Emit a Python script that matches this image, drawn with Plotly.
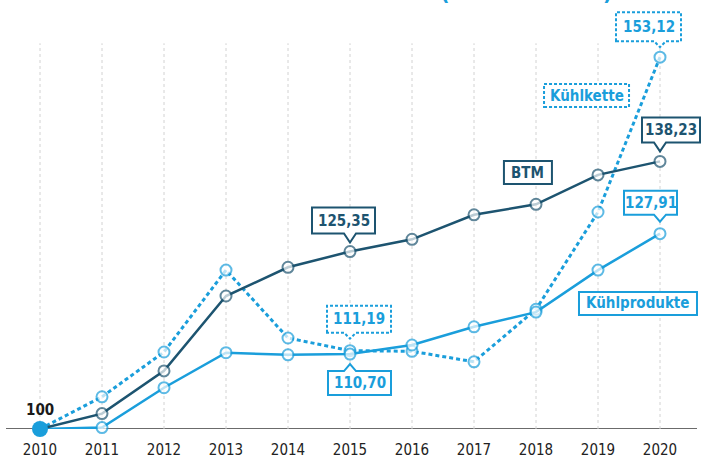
import plotly.graph_objects as go

# ---------------- data ----------------
years = [2010, 2011, 2012, 2013, 2014, 2015, 2016, 2017, 2018, 2019, 2020]
btm = [100, 102.2, 108.3, 119.0, 123.1, 125.35, 127.1, 130.6, 132.1, 136.3, 138.23]
kuehlprodukte = [100, 100.2, 105.9, 110.9, 110.6, 110.70, 112.0, 114.6, 116.7, 122.7, 127.91]
kuehlkette = [100, 104.6, 111.0, 122.7, 113.0, 111.19, 111.1, 109.6, 117.1, 131.0, 153.12]
series_names = ["BTM", "Kühlprodukte", "Kühlkette"]
tick_labels = [str(y) for y in years]

# ---------------- style ----------------
DARK = "#1d5470"
LIGHT = "#1a9edb"
FONT = "DejaVu Sans Condensed, Liberation Sans Narrow, Roboto, sans-serif"

series = {"BTM": btm, "Kühlprodukte": kuehlprodukte, "Kühlkette": kuehlkette}
style = {
    "BTM": dict(color=DARK, dash="solid"),
    "Kühlprodukte": dict(color=LIGHT, dash="solid"),
    "Kühlkette": dict(color=LIGHT, dash="4px,3px"),
}

fig = go.Figure()

for name in ["Kühlkette", "Kühlprodukte", "BTM"]:
    vals = series[name]
    st = style[name]
    fig.add_trace(go.Scatter(
        x=years, y=vals, mode="lines+markers", name=name,
        line=dict(color=st["color"], width=2.5 if name != "Kühlkette" else 3, dash=st["dash"]),
        marker=dict(size=[0] + [11] * (len(vals) - 1), color="#ffffff",
                    line=dict(color=st["color"], width=2)),
        cliponaxis=False, showlegend=False, hoverinfo="skip",
    ))

# start point 2010 = 100
fig.add_trace(go.Scatter(
    x=[years[0]], y=[btm[0]], mode="markers",
    marker=dict(size=16, color=LIGHT), cliponaxis=False,
    showlegend=False, hoverinfo="skip",
))

shapes = []
annotations = []

# vertical dotted gridlines and baseline
for yr in years:
    shapes.append(dict(type="line", xref="x", yref="y", x0=yr, x1=yr, y0=100, y1=155.1,
                       line=dict(color="#d2d2d2", width=1, dash="3px,3px"), layer="below"))
shapes.append(dict(type="line", xref="paper", yref="y", x0=6 / 704, x1=697 / 704, y0=100, y1=100,
                   line=dict(color="#3a3a3a", width=1.5), layer="below"))


def callout_path(L, R, near, far, tip, w=6):
    if near > 0:  # box above point, notch pointing down
        return (f"M {L},{near} L {L},{far} L {R},{far} L {R},{near} "
                f"L {w},{near} L 0,{tip} L {-w},{near} Z")
    return (f"M {L},{near} L {-w},{near} L 0,{tip} L {w},{near} "
            f"L {R},{near} L {R},{far} L {L},{far} Z")


callouts = [
    # series, index, text, L, R, near, far, tip, dotted
    ("BTM", 5, "125,35", -38, 25, 18, 44, 9, False),
    ("BTM", 10, "138,23", -18, 40, 19, 44, 10, False),
    ("Kühlprodukte", 10, "127,91", -36, 17, 19, 43, 12, False),
    ("Kühlprodukte", 5, "110,70", -22, 41, -17, -41, -10, False),
    ("Kühlkette", 5, "111,19", -23, 41, 18, 45, 12, True),
    ("Kühlkette", 10, "153,12", -44, 21, 16, 45, 10, True),
]
for name, i, txt, L, R, near, far, tip, dotted in callouts:
    col = style[name]["color"]
    xv, yv = years[i], series[name][i]
    shapes.append(dict(type="path", xref="x", yref="y", xsizemode="pixel", ysizemode="pixel",
                       xanchor=xv, yanchor=yv, path=callout_path(L, R, near, far, tip),
                       fillcolor="white",
                       line=dict(color=col, width=2, dash="3px,2px" if dotted else "solid"),
                       layer="above"))
    annotations.append(dict(x=xv, y=yv, xref="x", yref="y", text=f"<b>{txt}</b>", showarrow=False,
                            xshift=(L + R) / 2, yshift=(near + far) / 2,
                            font=dict(family=FONT, size=15, color=col)))

# series name labels (position in data units, size in pixels)
labels = [
    ("BTM", 2017.87, 136.64, 48, 23, False),
    ("Kühlkette", 2018.815, 147.64, 85, 23, True),
    ("Kühlprodukte", 2019.645, 117.93, 118, 23, False),
]
for name, lx, ly, w, h, dotted in labels:
    col = style[name]["color"]
    shapes.append(dict(type="rect", xref="x", yref="y", xsizemode="pixel", ysizemode="pixel",
                       xanchor=lx, yanchor=ly, x0=-w / 2, x1=w / 2, y0=-h / 2, y1=h / 2,
                       fillcolor="white",
                       line=dict(color=col, width=2, dash="3px,2px" if dotted else "solid"),
                       layer="above"))
    annotations.append(dict(x=lx, y=ly, xref="x", yref="y", text=f"<b>{name}</b>", showarrow=False,
                            font=dict(family=FONT, size=15, color=col)))

# start label
annotations.append(dict(x=years[0], y=btm[0], xref="x", yref="y", text="<b>100</b>", showarrow=False,
                        yshift=19, font=dict(family=FONT, size=15, color="#1a1a1a")))

# cropped title at the top edge
annotations.append(dict(x=0, y=1, xref="paper", yref="paper", xanchor="left", yanchor="bottom",
                        xshift=8, yshift=-7, showarrow=False,
                        text="<b>und des BTM-Umsatzes 2010 bis 2020 </b>"
                             f"<b><span style='color:{LIGHT}'>(2010 = 100 %)</span></b>",
                        font=dict(family=FONT, size=22, color="#555555")))

fig.update_layout(
    width=704, height=458,
    margin=dict(l=0, r=0, t=0, b=29),
    paper_bgcolor="white", plot_bgcolor="white",
    shapes=shapes, annotations=annotations,
    xaxis=dict(range=[2010 - 40 / 62, 2020 + 44 / 62], tickvals=years, ticktext=tick_labels,
               showgrid=False, zeroline=False, showline=False, ticks="",
               tickfont=dict(family=FONT, size=15, color="#222222"), ticklabelstandoff=10),
    yaxis=dict(range=[100, 100 + 429 / 7], visible=False, showgrid=False, zeroline=False),
    font=dict(family=FONT),
)

fig.write_html("out.html")
